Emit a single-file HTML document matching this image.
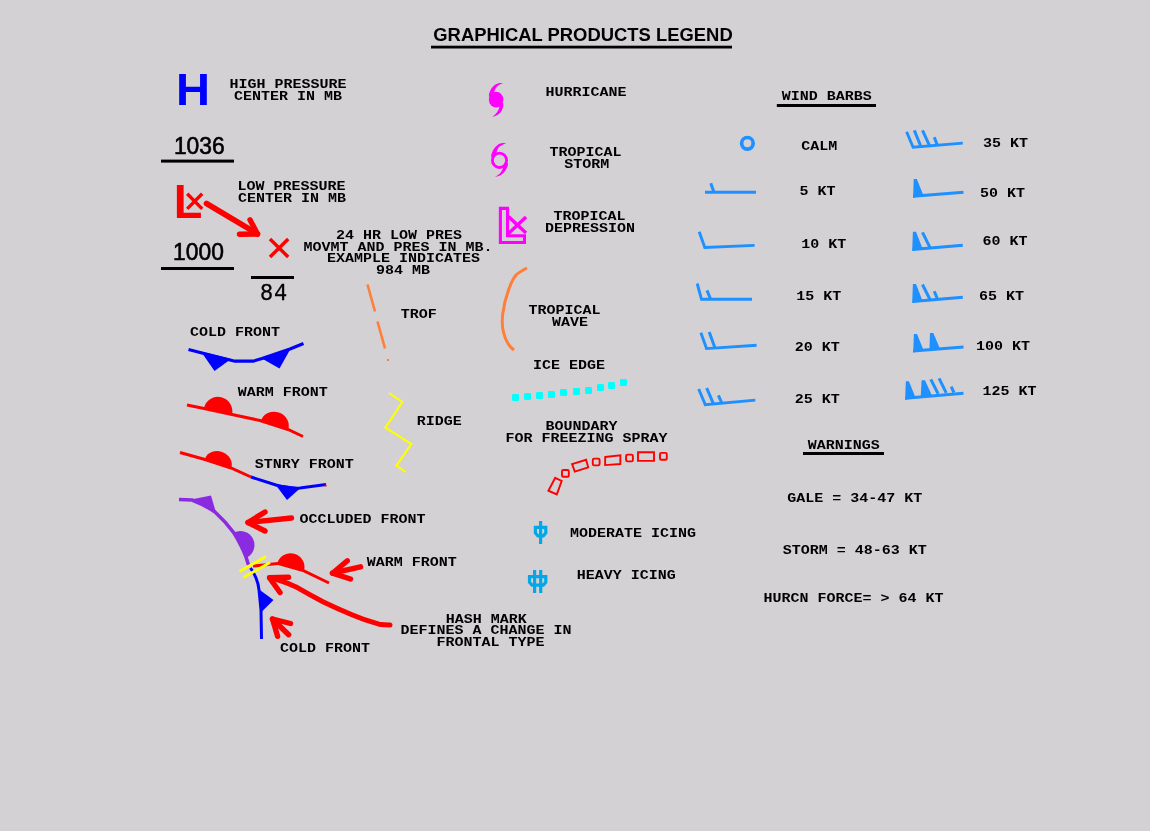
<!DOCTYPE html>
<html lang="en">
<head>
<meta charset="utf-8">
<title>Graphical Products Legend</title>
<style>
html,body{margin:0;padding:0;background:#d3d1d4;}
body{width:1150px;height:831px;overflow:hidden;}
svg{display:block;will-change:transform;}
text{fill:#000;}
.m{font-family:"Liberation Mono","DejaVu Sans Mono",monospace;font-weight:bold;font-size:13.7px;}
.title{font-family:"Liberation Sans","DejaVu Sans",sans-serif;font-weight:bold;font-size:19px;}
.big{font-family:"Liberation Sans","DejaVu Sans",sans-serif;font-weight:bold;}
.num{font-family:"Liberation Sans","DejaVu Sans",sans-serif;font-size:24px;stroke:#000;stroke-width:0.6px;}
.m84{font-family:"Liberation Mono","DejaVu Sans Mono",monospace;font-size:23.6px;stroke:#000;stroke-width:0.35px;}
</style>
</head>
<body>
<svg width="1150" height="831" viewBox="0 0 1150 831">
<rect width="1150" height="831" fill="#d3d1d4"/>
<text class="title" x="583" y="41.3" text-anchor="middle" textLength="299.4" lengthAdjust="spacingAndGlyphs">GRAPHICAL PRODUCTS LEGEND</text>
<rect x="431" y="45.7" width="301" height="2.8" fill="#000"/>
<text class="big" x="193" y="105" text-anchor="middle" style="fill:#0000ff" font-size="44.4" textLength="34" lengthAdjust="spacingAndGlyphs">H</text>
<text class="num" x="199.3" y="153.6" text-anchor="middle" textLength="50.8" lengthAdjust="spacingAndGlyphs">1036</text>
<rect x="161" y="159.6" width="73" height="3" fill="#000"/>
<text class="big" x="173.7" y="218" style="fill:#ff0000" font-size="48.5" textLength="28.6" lengthAdjust="spacingAndGlyphs">L</text>
<polyline points="187.2,193.8 202.2,208.9" fill="none" stroke="#ff0000" stroke-width="3.4" />
<polyline points="202.2,193.8 187.2,208.9" fill="none" stroke="#ff0000" stroke-width="3.4" />
<text class="num" x="198.5" y="260" text-anchor="middle" textLength="50.8" lengthAdjust="spacingAndGlyphs">1000</text>
<rect x="161" y="267" width="73" height="3" fill="#000"/>
<path d="M206.5,203.5 L257.5,234" fill="none" stroke="#ff0000" stroke-width="5.6" stroke-linecap="round"/>
<path d="M239.5,234.3 L257.5,234 L250,219.8" fill="none" stroke="#ff0000" stroke-width="5.4" stroke-linecap="round" stroke-linejoin="round"/>
<polyline points="270.0,239.0 288.2,257.0" fill="none" stroke="#ff0000" stroke-width="3.4" />
<polyline points="288.2,239.0 270.0,257.0" fill="none" stroke="#ff0000" stroke-width="3.4" />
<rect x="251" y="276" width="43" height="3" fill="#000"/>
<text class="m84" transform="translate(274.1,299.6) scale(0.93,1)" text-anchor="middle" letter-spacing="1.1">84</text>
<text class="m" x="288.1" y="88.3" text-anchor="middle" textLength="117.0" lengthAdjust="spacingAndGlyphs">HIGH PRESSURE</text>
<text class="m" x="288.1" y="100.2" text-anchor="middle" textLength="108.0" lengthAdjust="spacingAndGlyphs">CENTER IN MB</text>
<text class="m" x="291.5" y="190.0" text-anchor="middle" textLength="108.0" lengthAdjust="spacingAndGlyphs">LOW PRESSURE</text>
<text class="m" x="292.0" y="202.0" text-anchor="middle" textLength="108.0" lengthAdjust="spacingAndGlyphs">CENTER IN MB</text>
<text class="m" x="399.0" y="238.7" text-anchor="middle" textLength="126.0" lengthAdjust="spacingAndGlyphs">24 HR LOW PRES</text>
<text class="m" x="397.9" y="250.6" text-anchor="middle" textLength="189.0" lengthAdjust="spacingAndGlyphs">MOVMT AND PRES IN MB.</text>
<text class="m" x="403.4" y="261.7" text-anchor="middle" textLength="153.0" lengthAdjust="spacingAndGlyphs">EXAMPLE INDICATES</text>
<text class="m" x="403.1" y="273.6" text-anchor="middle" textLength="54.0" lengthAdjust="spacingAndGlyphs">984 MB</text>
<text class="m" x="235.0" y="336.0" text-anchor="middle" textLength="90.0" lengthAdjust="spacingAndGlyphs">COLD FRONT</text>
<text class="m" x="282.7" y="396.0" text-anchor="middle" textLength="90.0" lengthAdjust="spacingAndGlyphs">WARM FRONT</text>
<text class="m" x="304.3" y="467.6" text-anchor="middle" textLength="99.0" lengthAdjust="spacingAndGlyphs">STNRY FRONT</text>
<text class="m" x="362.5" y="522.6" text-anchor="middle" textLength="126.0" lengthAdjust="spacingAndGlyphs">OCCLUDED FRONT</text>
<text class="m" x="411.8" y="566.0" text-anchor="middle" textLength="90.0" lengthAdjust="spacingAndGlyphs">WARM FRONT</text>
<text class="m" x="325.0" y="651.6" text-anchor="middle" textLength="90.0" lengthAdjust="spacingAndGlyphs">COLD FRONT</text>
<text class="m" x="486.2" y="622.6" text-anchor="middle" textLength="81.0" lengthAdjust="spacingAndGlyphs">HASH MARK</text>
<text class="m" x="486.1" y="634.4" text-anchor="middle" textLength="171.0" lengthAdjust="spacingAndGlyphs">DEFINES A CHANGE IN</text>
<text class="m" x="490.6" y="645.9" text-anchor="middle" textLength="108.0" lengthAdjust="spacingAndGlyphs">FRONTAL TYPE</text>
<text class="m" x="418.7" y="317.6" text-anchor="middle" textLength="36.0" lengthAdjust="spacingAndGlyphs">TROF</text>
<text class="m" x="439.2" y="424.6" text-anchor="middle" textLength="45.0" lengthAdjust="spacingAndGlyphs">RIDGE</text>
<path d="M188.5,349.5 L202,353 L230,360 L235,361.2 L253,361.2 L262,358.5 L290,349 L303.5,343.5" fill="none" stroke="#0000ff" stroke-width="3.2" stroke-linejoin="round"/>
<polygon points="201.0,351.5 231.0,359.0 214.5,371.0" fill="#0000ff" />
<polygon points="261.0,358.0 291.0,348.0 279.5,368.5" fill="#0000ff" />
<path d="M187,405 L204,408.5 L232,414.5 L260,420.5 L288,429.5 L303,436.5" fill="none" stroke="#ff0000" stroke-width="3"/>
<path d="M204.0,408.0 A14.37,14.37 13.1 0 1 232.0,414.5 Z" fill="#ff0000"/>
<path d="M261.0,420.6 A14.31,13.31 18.1 0 1 288.2,429.5 Z" fill="#ff0000"/>
<path d="M180,452.5 L205,459.5 L231,468 L251,477" fill="none" stroke="#ff0000" stroke-width="3"/>
<path d="M205.0,458.5 A13.93,11.98 19.9 0 1 231.2,468.0 Z" fill="#ff0000"/>
<path d="M251,477 L276,485 Q290,489 300,488 L326,484.5" fill="none" stroke="#0000ff" stroke-width="3"/>
<polygon points="275.0,484.0 301.0,487.5 287.0,500.0" fill="#0000ff" />
<rect x="324.5" y="484.5" width="2" height="2" fill="#ff0000"/>
<path d="M179,499.5 L192,500 Q205,505 215,512 Q226,522 234,533 Q242,546 246,557 L248.5,565" fill="none" stroke="#8a2be2" stroke-width="3.6"/>
<polygon points="191.0,499.5 216.0,512.5 211.0,495.5" fill="#8a2be2" />
<path d="M234.0,532.5 A14.09,14.09 62.5 0 1 247.0,557.5 Z" fill="#8a2be2"/>
<path d="M250.5,568 Q254,573 256,578 Q258.5,584 259,590 L261,610 L261.5,639" fill="none" stroke="#0000ff" stroke-width="3"/>
<polygon points="258.5,589.0 261.0,612.5 273.5,600.0" fill="#0000ff" />
<path d="M253,566 L277.5,563.4 L304,570.8 L329,583" fill="none" stroke="#ff0000" stroke-width="3"/>
<path d="M277.3,563.4 A13.85,13.85 15.5 0 1 304.0,570.8 Z" fill="#ff0000"/>
<polyline points="239.5,571.5 266.0,556.5" fill="none" stroke="#ffff00" stroke-width="2.8" />
<polyline points="243.5,577.5 270.0,562.5" fill="none" stroke="#ffff00" stroke-width="2.8" />
<path d="M291.5,518 L248,522.5" fill="none" stroke="#ff0000" stroke-width="5.4" stroke-linecap="round"/>
<path d="M265,512 L248,522.5 L265,531" fill="none" stroke="#ff0000" stroke-width="5.4" stroke-linecap="round" stroke-linejoin="round"/>
<path d="M360.5,566.8 L332.5,573.2" fill="none" stroke="#ff0000" stroke-width="5.4" stroke-linecap="round"/>
<path d="M347.3,560.8 L332.5,573.2 L350.5,579" fill="none" stroke="#ff0000" stroke-width="5.4" stroke-linecap="round" stroke-linejoin="round"/>
<path d="M390,625 Q384,625 379,624.2 Q364,620 351.3,614.5 Q337,608.5 323.4,602 Q309,594.5 295.6,586.7 Q282,580.5 269.5,577.8" fill="none" stroke="#ff0000" stroke-width="5.0" stroke-linecap="round"/>
<path d="M288.5,577.3 L269.5,577.8 L280,592.5" fill="none" stroke="#ff0000" stroke-width="5.4" stroke-linecap="round" stroke-linejoin="round"/>
<path d="M288.7,634.7 L272.5,619" fill="none" stroke="#ff0000" stroke-width="5.4" stroke-linecap="round"/>
<path d="M290.5,623.5 L272.5,619 L277.6,636.3" fill="none" stroke="#ff0000" stroke-width="5.4" stroke-linecap="round" stroke-linejoin="round"/>
<polyline points="367.5,284.5 375.0,311.5" fill="none" stroke="#ff7f3a" stroke-width="2.6" />
<polyline points="377.5,321.5 385.0,348.5" fill="none" stroke="#ff7f3a" stroke-width="2.6" />
<rect x="387" y="359" width="2" height="2" fill="#ff7f3a"/>
<polyline points="389.0,393.0 402.4,402.0 385.4,427.6 411.4,444.0 396.4,465.6 405.6,472.0" fill="none" stroke="#ffff00" stroke-width="2.1" stroke-linejoin="miter"/>
<g transform="translate(496.1,99.7)" fill="#ff00ff">
<ellipse rx="7.2" ry="7.9"/>
<path d="M-7.2,-3 L-7.1,-5.8 Q-6,-9 -4.4,-11.6 Q-3,-13.5 -1.5,-14.8 Q1,-16.3 3.5,-16.7 L7,-16.6 Q4.5,-15.8 2.8,-14.6 Q1,-13.6 0,-12.1 Q-1.3,-10.3 -1.9,-7.9 L-2,-5 Z"/>
<path d="M7.2,3 L7.1,5.8 Q6.8,8.5 5.7,10.8 Q4.5,13 2.8,14.4 Q1,15.8 -1.5,16.6 L-4.2,17.3 Q-2.2,16 -0.8,14.6 Q0.7,13.1 1.7,11.4 Q2.8,9.6 3.2,7.9 L3.3,5 Z"/>
</g>
<g transform="translate(499.5,160.3)" fill="#ff00ff">
<ellipse rx="7.1" ry="7.2" fill="none" stroke="#ff00ff" stroke-width="2.8"/>
<path d="M-8.4,-3 L-8.2,-5.8 Q-7,-9.5 -5,-12.3 Q-3.4,-14.4 -1.4,-15.9 Q0.6,-17 3,-17.4 L6.8,-17.4 Q5,-16.8 3.7,-15.8 Q1.2,-14.6 -0.6,-13.2 Q-2,-11.4 -2.8,-8.7 L-3.2,-6.5 Z"/>
<path d="M8.5,2.5 L8.4,5 Q7.8,7 6.6,8.9 Q5.4,11.2 3.7,13 Q1.8,14.6 -0.6,15.6 L-4.8,16.7 Q-2,15.2 0.1,13.5 Q1.3,12.2 2.2,10.6 Q2.9,9.6 3.3,8.5 L4,6 Z"/>
</g>
<polygon points="500.4,208.4 507.5,208.4 507.5,235.8 524.5,235.8 524.5,242.5 500.4,242.5" fill="none" stroke="#ff00ff" stroke-width="3.1"/>
<polyline points="508.5,216.6 526.0,233.0" fill="none" stroke="#ff00ff" stroke-width="3.4" />
<polyline points="526.0,217.0 508.5,233.6" fill="none" stroke="#ff00ff" stroke-width="3.4" />
<text class="m" x="586.1" y="96.0" text-anchor="middle" textLength="81.0" lengthAdjust="spacingAndGlyphs">HURRICANE</text>
<text class="m" x="585.6" y="155.8" text-anchor="middle" textLength="72.0" lengthAdjust="spacingAndGlyphs">TROPICAL</text>
<text class="m" x="586.7" y="168.0" text-anchor="middle" textLength="45.0" lengthAdjust="spacingAndGlyphs">STORM</text>
<text class="m" x="589.5" y="220.0" text-anchor="middle" textLength="72.0" lengthAdjust="spacingAndGlyphs">TROPICAL</text>
<text class="m" x="590.0" y="231.9" text-anchor="middle" textLength="90.0" lengthAdjust="spacingAndGlyphs">DEPRESSION</text>
<text class="m" x="564.5" y="313.9" text-anchor="middle" textLength="72.0" lengthAdjust="spacingAndGlyphs">TROPICAL</text>
<text class="m" x="570.0" y="325.7" text-anchor="middle" textLength="36.0" lengthAdjust="spacingAndGlyphs">WAVE</text>
<text class="m" x="569.1" y="368.7" text-anchor="middle" textLength="72.0" lengthAdjust="spacingAndGlyphs">ICE EDGE</text>
<text class="m" x="581.5" y="429.6" text-anchor="middle" textLength="72.0" lengthAdjust="spacingAndGlyphs">BOUNDARY</text>
<text class="m" x="586.5" y="441.6" text-anchor="middle" textLength="162.0" lengthAdjust="spacingAndGlyphs">FOR FREEZING SPRAY</text>
<text class="m" x="633.1" y="536.8" text-anchor="middle" textLength="126.0" lengthAdjust="spacingAndGlyphs">MODERATE ICING</text>
<text class="m" x="626.3" y="579.0" text-anchor="middle" textLength="99.0" lengthAdjust="spacingAndGlyphs">HEAVY ICING</text>
<path d="M527,268 Q519,272 516,275 Q513,279 511.5,282.5 Q508.5,289 507,295 Q504.5,302 503.7,308.7 Q502,316 502.3,322.6 Q502.3,328 503.7,333 Q505,338.5 508,343.5 Q510.5,347.5 514,350" fill="none" stroke="#ff7f3a" stroke-width="3"/>
<rect x="512" y="394" width="7" height="7" rx="1.3" fill="#00ffff"/>
<rect x="524" y="393" width="7" height="7" rx="1.3" fill="#00ffff"/>
<rect x="536" y="392" width="7" height="7" rx="1.3" fill="#00ffff"/>
<rect x="548" y="391" width="7" height="7" rx="1.3" fill="#00ffff"/>
<rect x="560" y="389" width="7" height="7" rx="1.3" fill="#00ffff"/>
<rect x="573" y="388" width="7" height="7" rx="1.3" fill="#00ffff"/>
<rect x="585" y="387" width="7" height="7" rx="1.3" fill="#00ffff"/>
<rect x="597" y="384" width="7" height="7" rx="1.3" fill="#00ffff"/>
<rect x="608" y="382" width="7" height="7" rx="1.3" fill="#00ffff"/>
<rect x="620" y="379" width="7" height="7" rx="1.3" fill="#00ffff"/>
<polygon points="555.2,477.8 561.7,481.0 556.8,494.4 548.4,490.7" fill="none" stroke="#ff0000" stroke-width="1.9"/>
<polygon points="572.1,464.1 586.1,459.8 588.2,467.3 574.8,471.6" fill="none" stroke="#ff0000" stroke-width="1.9"/>
<polygon points="605.2,457.0 620.4,455.3 620.3,464.0 605.1,465.1" fill="none" stroke="#ff0000" stroke-width="1.9"/>
<polygon points="638.0,452.2 654.0,452.2 654.0,460.9 638.0,460.9" fill="none" stroke="#ff0000" stroke-width="1.9"/>
<rect x="562.0" y="470.0" width="6.8" height="6.8" rx="1.3" fill="none" stroke="#ff0000" stroke-width="1.9"/>
<rect x="592.8" y="458.6" width="6.8" height="6.8" rx="1.3" fill="none" stroke="#ff0000" stroke-width="1.9"/>
<rect x="626.1" y="454.6" width="6.8" height="6.8" rx="1.3" fill="none" stroke="#ff0000" stroke-width="1.9"/>
<rect x="660.0" y="452.9" width="6.8" height="6.8" rx="1.3" fill="none" stroke="#ff0000" stroke-width="1.9"/>
<g fill="none" stroke="#03a7e8" stroke-width="3.2">
<polygon points="535.4,527.4 545.8,527.4 545.8,533 543.3,535.9 537.9,535.9 535.4,533"/>
<line x1="540.6" y1="521" x2="540.6" y2="544"/>
<polygon points="529.5,576.6 545.8,576.6 545.8,582.2 543.3,585.1 532,585.1 529.5,582.2"/>
<line x1="534.6" y1="570" x2="534.6" y2="593"/>
<line x1="540.7" y1="570" x2="540.7" y2="593"/>
</g>
<text class="m" x="826.8" y="99.8" text-anchor="middle" textLength="90.0" lengthAdjust="spacingAndGlyphs">WIND BARBS</text>
<rect x="776.8" y="104" width="99.2" height="3" fill="#000"/>
<text class="m" x="819.3" y="149.5" text-anchor="middle" textLength="36.0" lengthAdjust="spacingAndGlyphs">CALM</text>
<text class="m" x="817.5" y="194.5" text-anchor="middle" textLength="36.0" lengthAdjust="spacingAndGlyphs">5 KT</text>
<text class="m" x="823.8" y="247.9" text-anchor="middle" textLength="45.0" lengthAdjust="spacingAndGlyphs">10 KT</text>
<text class="m" x="818.7" y="299.8" text-anchor="middle" textLength="45.0" lengthAdjust="spacingAndGlyphs">15 KT</text>
<text class="m" x="817.3" y="350.8" text-anchor="middle" textLength="45.0" lengthAdjust="spacingAndGlyphs">20 KT</text>
<text class="m" x="817.3" y="402.7" text-anchor="middle" textLength="45.0" lengthAdjust="spacingAndGlyphs">25 KT</text>
<text class="m" x="1005.5" y="146.6" text-anchor="middle" textLength="45.0" lengthAdjust="spacingAndGlyphs">35 KT</text>
<text class="m" x="1002.6" y="196.6" text-anchor="middle" textLength="45.0" lengthAdjust="spacingAndGlyphs">50 KT</text>
<text class="m" x="1005.1" y="245.3" text-anchor="middle" textLength="45.0" lengthAdjust="spacingAndGlyphs">60 KT</text>
<text class="m" x="1001.6" y="299.5" text-anchor="middle" textLength="45.0" lengthAdjust="spacingAndGlyphs">65 KT</text>
<text class="m" x="1003.1" y="350.1" text-anchor="middle" textLength="54.0" lengthAdjust="spacingAndGlyphs">100 KT</text>
<text class="m" x="1009.4" y="395.3" text-anchor="middle" textLength="54.0" lengthAdjust="spacingAndGlyphs">125 KT</text>
<text class="m" x="843.8" y="449.0" text-anchor="middle" textLength="72.0" lengthAdjust="spacingAndGlyphs">WARNINGS</text>
<rect x="803" y="452" width="81" height="3" fill="#000"/>
<text class="m" x="854.7" y="502.1" text-anchor="middle" textLength="135.0" lengthAdjust="spacingAndGlyphs">GALE = 34-47 KT</text>
<text class="m" x="854.8" y="554.3" text-anchor="middle" textLength="144.0" lengthAdjust="spacingAndGlyphs">STORM = 48-63 KT</text>
<text class="m" x="853.5" y="602.3" text-anchor="middle" textLength="180.0" lengthAdjust="spacingAndGlyphs">HURCN FORCE= &gt; 64 KT</text>
<circle cx="747.4" cy="143.3" r="5.8" fill="none" stroke="#1e90ff" stroke-width="3.7"/>
<polyline points="705.0,192.3 756.0,192.3" fill="none" stroke="#1e90ff" stroke-width="3" />
<polyline points="713.7,191.5 710.8,183.2" fill="none" stroke="#1e90ff" stroke-width="3.0" />
<polyline points="699.2,231.8 704.8,247.4 754.6,245.4" fill="none" stroke="#1e90ff" stroke-width="2.9" />
<polyline points="697.2,283.5 701.5,299.3 752.0,299.3" fill="none" stroke="#1e90ff" stroke-width="2.9" />
<polyline points="710.3,298.5 707.0,290.4" fill="none" stroke="#1e90ff" stroke-width="3.0" />
<polyline points="700.9,332.8 706.5,348.6 756.6,345.3" fill="none" stroke="#1e90ff" stroke-width="2.9" />
<polyline points="714.9,347.8 709.2,332.0" fill="none" stroke="#1e90ff" stroke-width="3.0" />
<polyline points="698.7,389.0 705.3,404.7 755.3,400.1" fill="none" stroke="#1e90ff" stroke-width="2.9" />
<polyline points="713.6,404.2 706.7,388.0" fill="none" stroke="#1e90ff" stroke-width="3.0" />
<polyline points="721.7,402.9 718.4,395.3" fill="none" stroke="#1e90ff" stroke-width="3.0" />
<polyline points="906.6,131.8 913.1,147.2 962.8,143.1" fill="none" stroke="#1e90ff" stroke-width="2.9" />
<polyline points="920.8,146.2 914.3,130.4" fill="none" stroke="#1e90ff" stroke-width="3.0" />
<polyline points="929.5,145.6 922.5,130.4" fill="none" stroke="#1e90ff" stroke-width="3.0" />
<polyline points="937.2,145.0 934.3,137.3" fill="none" stroke="#1e90ff" stroke-width="3.0" />
<polyline points="913.1,196.3 963.5,192.2" fill="none" stroke="#1e90ff" stroke-width="3" />
<polygon points="913.1,197.9 913.7,179.0 916.8,179.0 923.1,194.4" fill="#1e90ff" />
<polyline points="912.7,249.6 962.8,245.3" fill="none" stroke="#1e90ff" stroke-width="3" />
<polygon points="912.2,250.9 912.9,231.8 916.0,231.8 922.3,247.9" fill="#1e90ff" />
<polyline points="930.0,247.7 922.5,232.3" fill="none" stroke="#1e90ff" stroke-width="3.0" />
<polyline points="912.7,301.4 962.8,297.2" fill="none" stroke="#1e90ff" stroke-width="3" />
<polygon points="912.2,303.0 912.9,284.0 916.0,284.0 922.3,300.2" fill="#1e90ff" />
<polyline points="930.0,299.5 922.5,284.5" fill="none" stroke="#1e90ff" stroke-width="3.0" />
<polyline points="937.2,298.5 934.3,291.2" fill="none" stroke="#1e90ff" stroke-width="3.0" />
<polyline points="913.1,350.9 963.5,347.0" fill="none" stroke="#1e90ff" stroke-width="3" />
<polygon points="913.2,352.6 913.9,334.0 917.0,334.0 923.4,349.8" fill="#1e90ff" />
<polygon points="929.4,350.9 930.0,333.1 933.3,333.1 940.0,348.7" fill="#1e90ff" />
<polyline points="905.4,398.2 963.5,393.2" fill="none" stroke="#1e90ff" stroke-width="3" />
<polygon points="905.1,399.9 905.8,381.2 908.9,381.2 915.3,397.0" fill="#1e90ff" />
<polygon points="920.7,397.5 921.6,380.2 925.0,380.2 931.7,395.0" fill="#1e90ff" />
<polyline points="938.1,393.8 930.8,379.4" fill="none" stroke="#1e90ff" stroke-width="3.0" />
<polyline points="946.2,392.8 939.1,378.4" fill="none" stroke="#1e90ff" stroke-width="3.0" />
<polyline points="953.9,392.5 951.2,386.7" fill="none" stroke="#1e90ff" stroke-width="3.0" />
</svg>
</body>
</html>
